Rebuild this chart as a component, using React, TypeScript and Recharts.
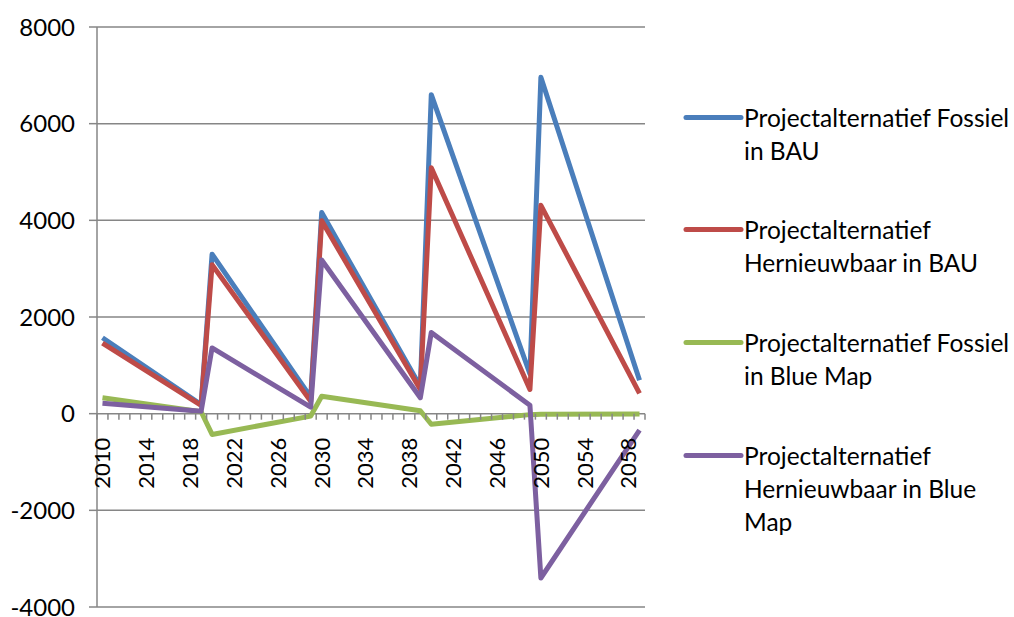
import { LineChart, Line, XAxis, YAxis, CartesianGrid } from 'recharts';

// categories
const years = [
  '2010', '2011', '2012', '2013', '2014', '2015', '2016', '2017', '2018', '2019',
  '2020', '2021', '2022', '2023', '2024', '2025', '2026', '2027', '2028', '2029',
  '2030', '2031', '2032', '2033', '2034', '2035', '2036', '2037', '2038', '2039',
  '2040', '2041', '2042', '2043', '2044', '2045', '2046', '2047', '2048', '2049',
  '2050', '2051', '2052', '2053', '2054', '2055', '2056', '2057', '2058', '2059',
];

const n = null;
const fossielBAU = [
  1570, n, n, n, n, n, n, n, n, 190,
  3300, n, n, n, n, n, n, n, n, 340,
  4160, n, n, n, n, n, n, n, n, 560,
  6600, n, n, n, n, n, n, n, n, 820,
  6960, n, n, n, n, n, n, n, n, 690,
];
const hernieuwbaarBAU = [
  1460, n, n, n, n, n, n, n, n, 170,
  3080, n, n, n, n, n, n, n, n, 255,
  3990, n, n, n, n, n, n, n, n, 500,
  5090, n, n, n, n, n, n, n, n, 500,
  4310, n, n, n, n, n, n, n, n, 420,
];
const fossielBlueMap = [
  330, n, n, n, n, n, n, n, n, 40,
  -430, n, n, n, n, n, n, n, n, -50,
  360, n, n, n, n, n, n, n, n, 60,
  -220, n, n, n, n, n, n, n, n, -20,
  -10, n, n, n, n, n, n, n, n, -5,
];
const hernieuwbaarBlueMap = [
  215, n, n, n, n, n, n, n, n, 50,
  1360, n, n, n, n, n, n, n, n, 135,
  3180, n, n, n, n, n, n, n, n, 330,
  1680, n, n, n, n, n, n, n, n, 175,
  -3400, n, n, n, n, n, n, n, n, -340,
];

const yTicks = [-4000, -2000, 0, 2000, 4000, 6000, 8000];

const series = [
  { key: 'fosBAU', values: fossielBAU, color: '#4A7EBB', label: ['Projectalternatief Fossiel', 'in BAU'] },
  { key: 'herBAU', values: hernieuwbaarBAU, color: '#BE4B48', label: ['Projectalternatief', 'Hernieuwbaar in BAU'] },
  { key: 'fosBM', values: fossielBlueMap, color: '#98B954', label: ['Projectalternatief Fossiel', 'in Blue Map'] },
  { key: 'herBM', values: hernieuwbaarBlueMap, color: '#7D60A0', label: ['Projectalternatief', 'Hernieuwbaar in Blue', 'Map'] },
];

const data = years.map((year, i) => {
  const row: Record<string, string | number | null> = { year };
  series.forEach((s) => {
    row[s.key] = s.values[i];
  });
  return row;
});

const W = 1014;
const H = 617;
const X_AXIS_H = 10;
const MARGIN = { top: 27, right: 369, bottom: 0, left: 0 };
const Y_AXIS_W = 97;
const PLOT_W = W - MARGIN.left - MARGIN.right - Y_AXIS_W;
const PLOT_H = H - MARGIN.top - MARGIN.bottom - X_AXIS_H;
const BAND = PLOT_W / years.length;
// the category axis crosses the value axis at 0
const ZERO_Y = MARGIN.top + (PLOT_H * 8000) / 12000;
const FONT = 'Lato, "Open Sans", sans-serif';
const AXIS_GREY = '#868686';

function YearTick(props: any) {
  const { x, payload, index } = props;
  const i = index ?? payload.index;
  return (
    <g>
      <line x1={x - BAND / 2} x2={x - BAND / 2} y1={ZERO_Y} y2={ZERO_Y + 6} stroke={AXIS_GREY} strokeWidth={1.5} />
      {i === years.length - 1 && (
        <line x1={x + BAND / 2} x2={x + BAND / 2} y1={ZERO_Y} y2={ZERO_Y + 6} stroke={AXIS_GREY} strokeWidth={1.5} />
      )}
      {i % 4 === 0 && (
        <text
          x={0}
          y={0}
          dy="0.36em"
          transform={`translate(${x},${ZERO_Y + 24}) rotate(-90)`}
          textAnchor="end"
          fontSize={22}
          fontFamily={FONT}
          fill="#000"
        >
          {payload.value}
        </text>
      )}
    </g>
  );
}

function LegendBox() {
  return (
    <div
      style={{
        position: 'absolute',
        left: 682,
        top: 100.5,
        width: 332,
        fontFamily: FONT,
        fontSize: 24.5,
        color: '#000',
      }}
    >
      {series.map((s) => (
        <div key={s.key} style={{ display: 'flex', height: 112.7 }}>
          <svg width={62} height={33} style={{ flex: 'none' }}>
            <line x1={4} x2={59} y1={16.5} y2={16.5} stroke={s.color} strokeWidth={5} strokeLinecap="round" />
          </svg>
          <div style={{ lineHeight: '33px', whiteSpace: 'nowrap' }}>
            {s.label.map((l) => (
              <div key={l}>{l}</div>
            ))}
          </div>
        </div>
      ))}
    </div>
  );
}

export default function App() {
  return (
    <div style={{ position: 'relative', width: W, height: H, background: '#fff' }}>
      <style>{'body{margin:0}'}</style>
      <LineChart width={W} height={H} data={data} margin={MARGIN}>
        <CartesianGrid vertical={false} stroke={AXIS_GREY} strokeWidth={1.5} />
        <XAxis
          dataKey="year"
          scale="band"
          interval={0}
          height={X_AXIS_H}
          axisLine={false}
          tickLine={false}
          tick={<YearTick />}
        />
        <YAxis
          domain={[-4000, 8000]}
          ticks={yTicks}
          interval={0}
          width={Y_AXIS_W}
          axisLine={{ stroke: AXIS_GREY, strokeWidth: 1.5 }}
          tickLine={{ stroke: AXIS_GREY, strokeWidth: 1.5 }}
          tickSize={8}
          tickMargin={14}
          tick={{ fontSize: 24, fill: '#000', fontFamily: FONT }}
        />
        {series.map((s) => (
          <Line
            key={s.key}
            type="linear"
            dataKey={s.key}
            stroke={s.color}
            strokeWidth={5}
            strokeLinejoin="round"
            dot={false}
            activeDot={false}
            connectNulls
            isAnimationActive={false}
          />
        ))}
      </LineChart>
      <LegendBox />
    </div>
  );
}
